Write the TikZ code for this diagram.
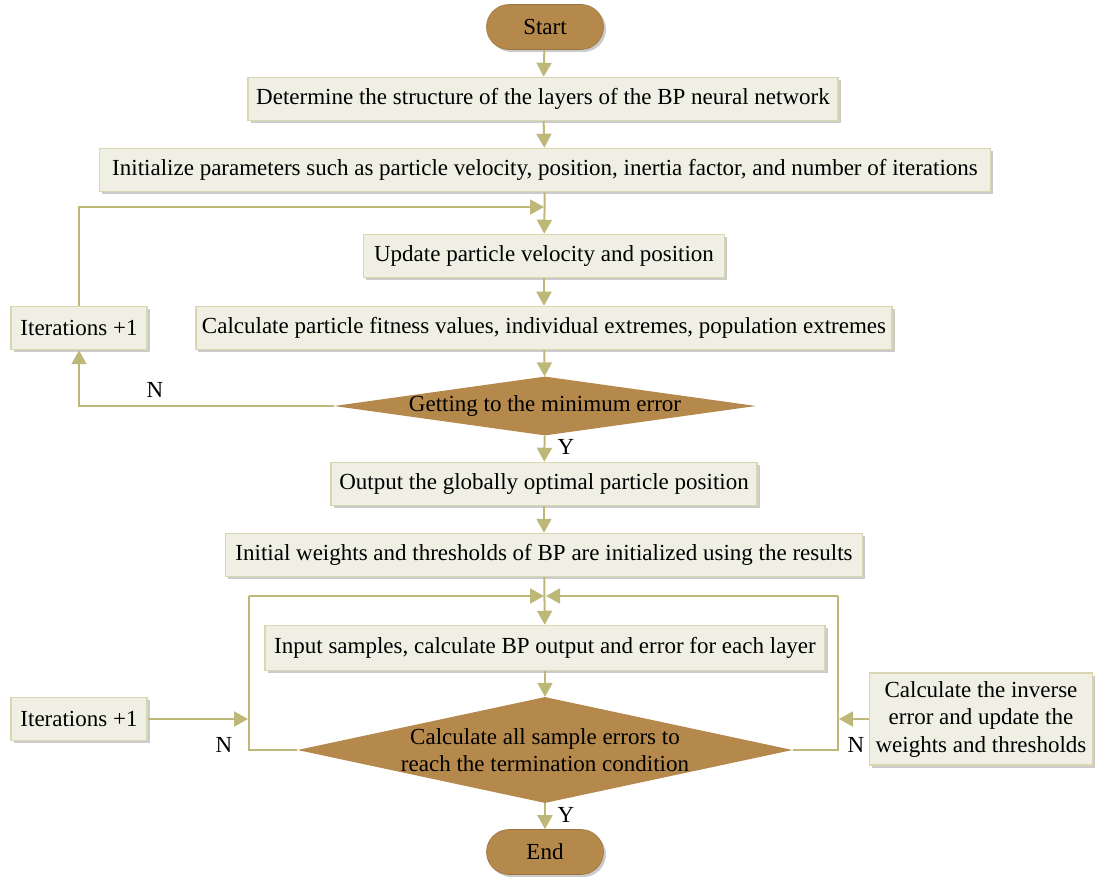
\documentclass[tikz,border=0pt]{standalone}
\usepackage{fontspec}
\setmainfont{Liberation Serif}
\usetikzlibrary{shapes.geometric,shapes.misc,arrows.meta,shadows}
\definecolor{lineol}{RGB}{190,184,120}
\definecolor{boxfill}{RGB}{239,239,227}
\definecolor{boxdraw}{RGB}{218,214,178}
\definecolor{brownf}{RGB}{181,136,75}
\tikzset{
  x=1pt,y=-1pt,
  every node/.style={font=\fontsize{23}{27.5}\selectfont},
  sh/.style={drop shadow={shadow xshift=2.5pt,shadow yshift=-2.5pt,fill=black!45,opacity=0.45}},
  procbox/.style={rectangle,draw=boxdraw,line width=1.5pt,fill=boxfill,sh,inner xsep=6pt,inner ysep=0pt,minimum height=43pt},
  term/.style={rounded rectangle,fill=brownf,draw=brownf!85!black,line width=0.6pt,sh,minimum width=117pt,minimum height=45pt,inner sep=0pt},
  dec/.style={diamond,fill=brownf,inner sep=0pt,align=center},
  flow/.style={draw=lineol,line width=2pt,-{Triangle[length=14pt,width=15pt]}},
  plain/.style={draw=lineol,line width=2pt},
  lbl/.style={font=\fontsize{23}{27.5}\selectfont}
}
\begin{document}
\begin{tikzpicture}
\useasboundingbox (0,0) rectangle (1096,877);
\node[term] (start) at (545,27) {Start};
\node[procbox,minimum width=590pt] (b1) at (543,99) {Determine the structure of the layers of the BP neural network};
\node[procbox,minimum width=891pt] (b2) at (545,170) {Initialize parameters such as particle velocity, position, inertia factor, and number of iterations};
\node[procbox,minimum width=361pt] (b3) at (544,256) {Update particle velocity and position};
\node[procbox,minimum width=696pt] (b4) at (544,328) {Calculate particle fitness values, individual extremes, population extremes};
\node[procbox,minimum width=136pt] (it1) at (79,328) {Iterations +1};
\node[dec,aspect=7.16,minimum width=415pt,minimum height=58pt] (d1) at (545,406) {Getting to the minimum error};
\node[procbox,minimum width=426pt] (b5) at (544,484) {Output the globally optimal particle position};
\node[procbox,minimum width=637pt] (b6) at (544,555) {Initial weights and thresholds of BP are initialized using the results};
\node[procbox,minimum width=560pt,minimum height=45pt] (b7) at (545,648) {Input samples, calculate BP output and error for each layer};
\node[dec,aspect=4.67,minimum width=495pt,minimum height=106pt] (d2) at (545,750) {Calculate all sample errors to\\reach the termination condition};
\node[procbox,minimum width=136pt] (it2) at (79,719) {Iterations +1};
\node[procbox,minimum width=223pt,minimum height=92pt,align=center] (inv) at (981,719) {Calculate the inverse\\error and update the\\weights and thresholds};
\node[term] (end) at (545,852) {End};

\coordinate (j1) at (545,207);
\coordinate (j2) at (545,596);
\coordinate (jl) at (249,596);
\coordinate (jr) at (838,596);
\coordinate (jla) at (249,719);
\coordinate (jra) at (838,719);

\draw[flow] (start) -- (b1);
\draw[flow] (b1) -- (b2);
\draw[flow] (b2) -- (b3);
\draw[flow] (b3) -- (b4);
\draw[flow] (b4) -- (d1);
\draw[flow] (d1) -- (b5);
\draw[flow] (b5) -- (b6);
\draw[flow] (b6) -- (b7);
\draw[flow] (b7) -- (d2);
\draw[flow] (d2) -- (end);

\draw[flow] (d1.west) -| (it1.south);
\draw[flow,shorten >=1pt] (it1.north) |- (j1);
\draw[plain] (d2.west) -| (jl);
\draw[flow,shorten >=1pt] (jl) -- (j2);
\draw[plain] (d2.east) -| (jr);
\draw[flow,shorten >=1pt] (jr) -- (j2);
\draw[flow,shorten >=1pt] (it2.east) -- (jla);
\draw[flow,shorten >=1pt] (inv.west) -- (jra);

\node[lbl] (n1) at (155,390) {N};
\node[lbl] (y1) at (566,447) {Y};
\node[lbl] (n2) at (224,745) {N};
\node[lbl] (n3) at (856,745) {N};
\node[lbl] (y2) at (566,815) {Y};
\end{tikzpicture}
\end{document}
